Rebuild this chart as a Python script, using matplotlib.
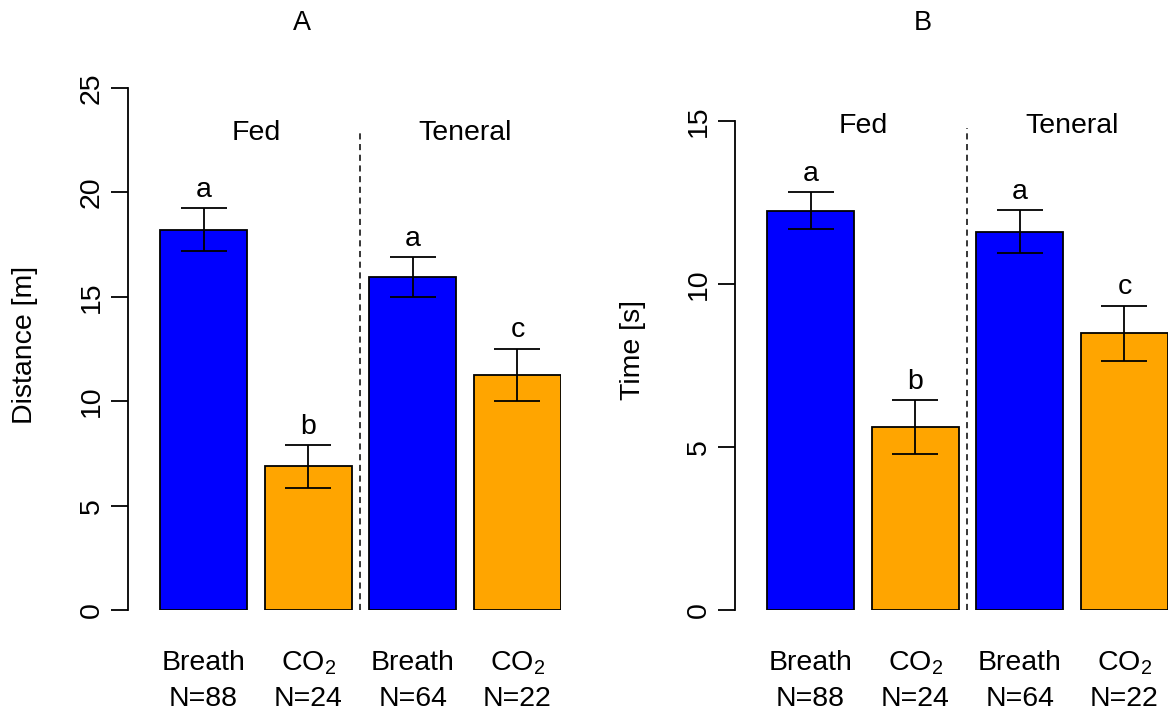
import matplotlib
matplotlib.use("Agg")
import matplotlib.pyplot as plt
import matplotlib.transforms as mtransforms

plt.rcParams['font.family'] = ['Liberation Sans', 'DejaVu Sans']
plt.rcParams['mathtext.fontset'] = 'custom'
plt.rcParams['mathtext.rm'] = 'Liberation Sans'
plt.rcParams['mathtext.it'] = 'Liberation Sans'

# data
stimulus = ['Breath', r'CO$_2$', 'Breath', r'CO$_2$']
n_labels = ['N=88', 'N=24', 'N=64', 'N=22']
groups = ['Fed', 'Teneral']
bar_colors = ['#0000ff', '#ffa500', '#0000ff', '#ffa500']

dist_mean = [18.2, 6.88, 15.95, 11.27]
dist_se = [1.03, 1.03, 0.96, 1.25]
dist_letters = ['a', 'b', 'a', 'c']

time_mean = [12.25, 5.62, 11.61, 8.49]
time_se = [0.57, 0.83, 0.66, 0.85]
time_letters = ['a', 'b', 'a', 'c']

W, H = 1171, 716
fig = plt.figure(figsize=(W / 100, H / 100), dpi=100)

xpos = [0.7, 1.9, 3.1, 4.3]
fs = 20.5


def panel(left_px, right_px, top_px, ymax, yticks, means, ses, letters, ylabel, ylab_x, ylab_y,
          title, title_x, group_y, dash_top):
    bottom_px = 610
    ax = fig.add_axes([left_px / W, 1 - bottom_px / H, (right_px - left_px) / W, (bottom_px - top_px) / H])
    ax.bar(xpos, means, width=1.0, color=bar_colors, edgecolor='black', linewidth=1.3, zorder=2)
    ax.errorbar(xpos, means, yerr=ses, fmt='none', ecolor='black', elinewidth=1.3,
                capsize=16.5, capthick=1.3, zorder=3)
    for x, m, s, l in zip(xpos, means, ses, letters):
        ax.annotate(l, (x, m + s), xytext=(0, 8), textcoords='offset points',
                    ha='center', va='baseline', fontsize=fs, clip_on=False)
    # separator between Fed and Teneral
    ax.plot([2.5, 2.5], [0, dash_top], color='black', linestyle=(0, (4, 3)),
            linewidth=1.1, clip_on=False)
    ax.text(1.3, group_y, groups[0], ha='center', va='center', fontsize=fs)
    ax.text(3.7, group_y, groups[1], ha='center', va='center', fontsize=fs)

    ax.set_xlim(-0.167, 4.8)
    ax.set_ylim(0, ymax)
    for side in ['top', 'right', 'bottom']:
        ax.spines[side].set_visible(False)
    ax.spines['left'].set_linewidth(1.3)
    ax.set_xticks([])
    ax.set_yticks(yticks)
    ax.tick_params(axis='y', length=12.5, width=1.3, pad=4, labelsize=fs, labelrotation=90)
    for lab in ax.get_yticklabels():
        lab.set_va('center')

    tr = mtransforms.blended_transform_factory(ax.transData, fig.transFigure)
    for x, s, n in zip(xpos, stimulus, n_labels):
        ax.text(x, 1 - 663 / H, s, transform=tr, ha='center', va='center', fontsize=fs)
        ax.text(x, 1 - 699 / H, n, transform=tr, ha='center', va='center', fontsize=fs)

    fig.text(ylab_x / W, 1 - ylab_y / H, ylabel, rotation=90, ha='center', va='center', fontsize=fs)
    fig.text(title_x / W, 1 - 23 / H, title, ha='center', va='center', fontsize=fs * 0.95)
    return ax


panel(128, 561, 88, 25, [0, 5, 10, 15, 20, 25], dist_mean, dist_se, dist_letters,
      'Distance [m]', 25, 345, 'A', 302, 22.85, 23.0)
panel(735, 1168, 121, 15, [0, 5, 10, 15], time_mean, time_se, time_letters,
      'Time [s]', 633, 350, 'B', 923, 14.85, 14.8)

fig.savefig('out.png', dpi=100)
